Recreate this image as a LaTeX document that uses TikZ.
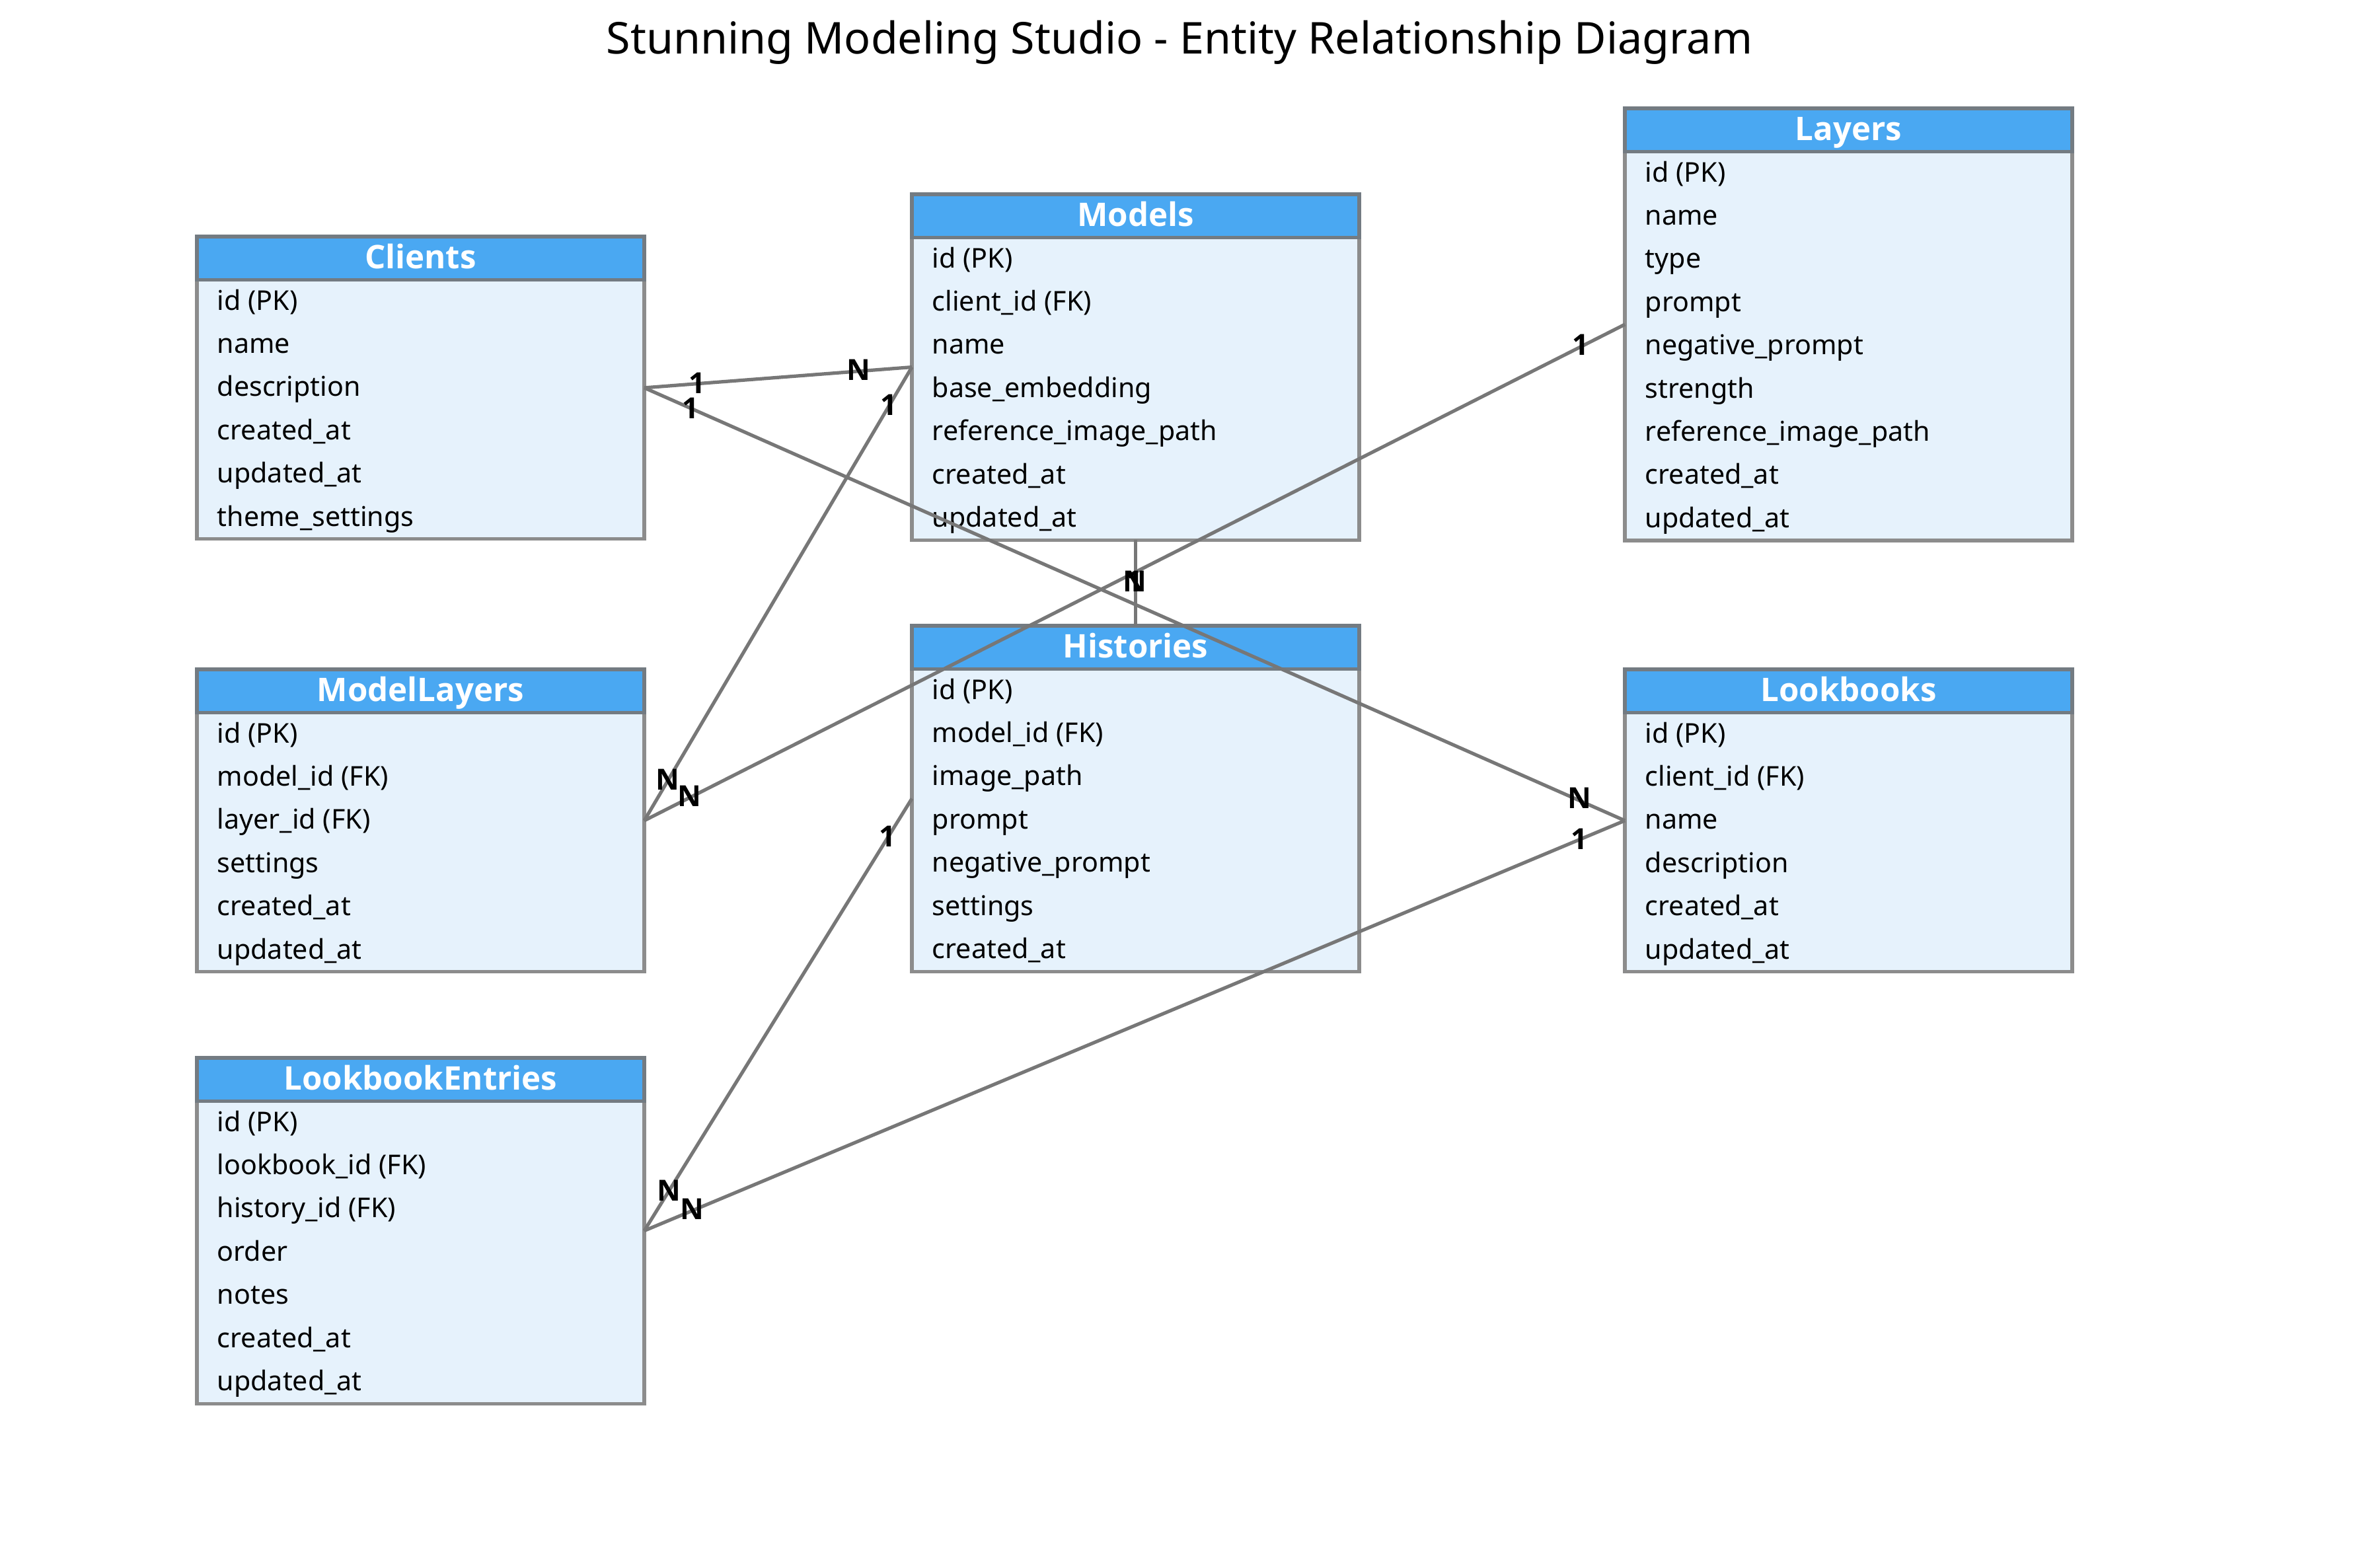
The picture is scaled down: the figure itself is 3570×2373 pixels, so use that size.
\documentclass[tikz,border=0pt]{standalone}
\usepackage{fontspec}
\setmainfont{Noto Sans}
\newfontfamily\hbold{Open Sans}
\usetikzlibrary{calc}
\definecolor{headblue}{HTML}{4AA8F2}
\definecolor{bodyblue}{HTML}{E6F2FC}
\definecolor{boxline}{HTML}{8C8C8C}
\definecolor{headline}{HTML}{737B82}
\definecolor{relline}{HTML}{777777}
\tikzset{
  entbody/.style={draw=boxline, fill=bodyblue, line width=1.3pt, minimum width=169.25pt, inner sep=0pt, outer sep=0pt},
  enthead/.style={draw=headline, fill=headblue, line width=1.3pt, minimum width=169.25pt, minimum height=16.35pt, inner sep=0pt, outer sep=0pt},
  headtext/.style={anchor=base, inner sep=0pt, text=white, font=\hbold\bfseries\fontsize{12.3}{14}\selectfont},
  rowtext/.style={anchor=base west, inner sep=0pt, text=black, font=\fontsize{10.3}{12}\selectfont},
  rel/.style={draw=relline, line width=1.3pt},
  card/.style={inner sep=0pt, text=black, font=\hbold\bfseries\fontsize{11}{13}\selectfont},
}
\newcommand\entity[5]{%
  \foreach \r [count=\c] in {#5} {\xdef\nrows{\c}}%
  \pgfmathsetmacro\H{(\nrows+1)*65.4}%
  \node[entbody, minimum height=\H*0.25pt] (#1) at (#2+338.5, #3+\H/2) {};
  \node[enthead] (#1-h) at (#2+338.5, #3+32.7) {};
  \node[headtext] (#1-t) at (#2+338.5, #3+48.5) {#4};
  \foreach \r [count=\i] in {#5} {\node[rowtext] (#1-r\i) at (#2+30, #3+65.4*\i+45.7) {\r};}
}
\begin{document}
\begin{tikzpicture}[x=0.25pt, y=-0.25pt]
\fill[white] (0,0) rectangle (3570,2373);
\useasboundingbox (0,0) rectangle (3570,2373);
\node[anchor=base, inner sep=0pt, font=\fontsize{16.6}{20}\selectfont] (title) at (1785,82) {Stunning Modeling Studio - Entity Relationship Diagram};

\entity{Clients}{298}{358}{Clients}{id (PK), name, description, created\_at, updated\_at, theme\_settings}
\entity{Models}{1380}{294}{Models}{id (PK), client\_id (FK), name, base\_embedding, reference\_image\_path, created\_at, updated\_at}
\entity{Layers}{2459}{164}{Layers}{id (PK), name, type, prompt, negative\_prompt, strength, reference\_image\_path, created\_at, updated\_at}
\entity{ModelLayers}{298}{1013}{ModelLayers}{id (PK), model\_id (FK), layer\_id (FK), settings, created\_at, updated\_at}
\entity{Histories}{1380}{947}{Histories}{id (PK), model\_id (FK), image\_path, prompt, negative\_prompt, settings, created\_at}
\entity{Lookbooks}{2459}{1013}{Lookbooks}{id (PK), client\_id (FK), name, description, created\_at, updated\_at}
\entity{LookbookEntries}{298}{1601}{LookbookEntries}{id (PK), lookbook\_id (FK), history\_id (FK), order, notes, created\_at, updated\_at}

\draw[rel] (Clients.east) -- (Models.west);
\draw[rel] (Clients.east) -- (Lookbooks.west);
\draw[rel] (Models.west) -- (ModelLayers.east);
\draw[rel] (Layers.west) -- (ModelLayers.east);
\draw[rel] (Models.south) -- (Histories.north);
\draw[rel] (Histories.west) -- (LookbookEntries.east);
\draw[rel] (Lookbooks.west) -- (LookbookEntries.east);

\node[card] (c1a) at (1055,580) {1};
\node[card] (c1b) at (1299,560) {N};
\node[card] (c2a) at (1045,618) {1};
\node[card] (c2b) at (2390,1208) {N};
\node[card] (c3a) at (1345,613) {1};
\node[card] (c3b) at (1010,1180) {N};
\node[card] (c4a) at (2392,522) {1};
\node[card] (c4b) at (1043,1205) {N};
\node[card] (c5a) at (1717,880) {1};
\node[card] (c5b) at (1717,880) {N};
\node[card] (c6a) at (1343,1266) {1};
\node[card] (c6b) at (1012,1802) {N};
\node[card] (c7a) at (2390,1270) {1};
\node[card] (c7b) at (1047,1830) {N};
\end{tikzpicture}
\end{document}
